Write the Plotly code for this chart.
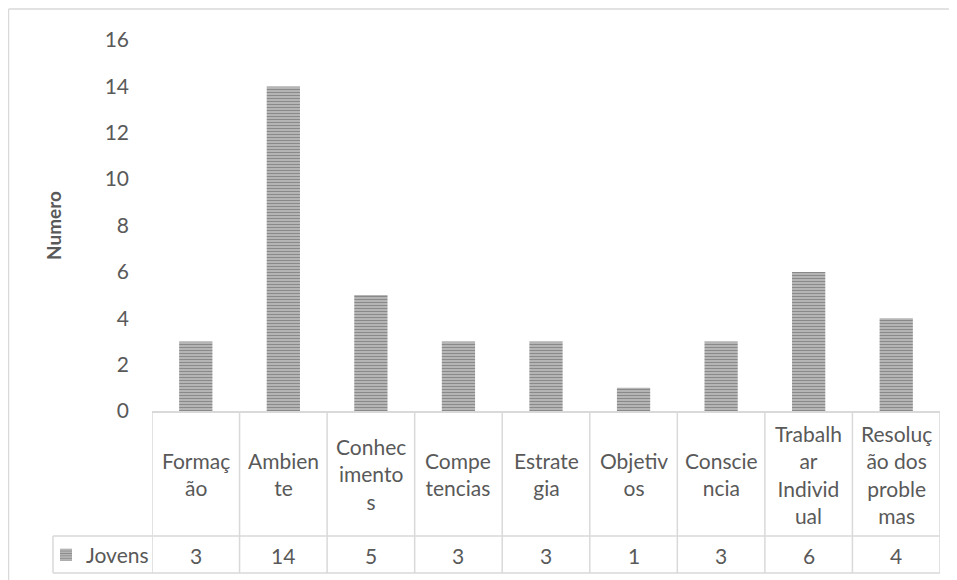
import plotly.graph_objects as go

categories = ["Formação", "Ambiente", "Conhecimentos", "Competencias", "Estrategia",
              "Objetivos", "Conscie ncia", "Trabalhar Individual", "Resolução dos problemas"]
tick_labels = ["Formaç<br>ão", "Ambien<br>te", "Conhec<br>imento<br>s", "Compe<br>tencias",
               "Estrate<br>gia", "Objetiv<br>os", "Conscie<br>ncia", "Trabalh<br>ar<br>Individ<br>ual",
               "Resoluç<br>ão dos<br>proble<br>mas"]
series_name = "Jovens"
values = [3, 14, 5, 3, 3, 1, 3, 6, 4]
y_ticks = [0, 2, 4, 6, 8, 10, 12, 14, 16]

OFF = 8  # page body margin
W, H = 957 - OFF, 580 - OFF
L, R, T, B = 152 - OFF, 17, 40 - OFF, 169
pw, ph = W - L - R, H - T - B

def px_x(p):
    return (p - OFF - L) / pw

def px_y(p):
    return (H - B - (p - OFF)) / ph

FONT = "Lato"
TXT = "#595959"
GRID = "#d9d9d9"
FS = 21

fig = go.Figure()
fig.add_trace(go.Bar(
    x=list(range(len(categories))), y=values, name=series_name, width=0.38,
    marker=dict(color="#a6a6a6", line=dict(width=0),
                pattern=dict(shape="-", fgcolor="#4f4f4f", bgcolor="#c4c4c4", size=3, solidity=0.5)),
    showlegend=True,
))

shapes = []
n = len(categories)
y_top = px_y(411)
y_mid = px_y(536)
y_bot = px_y(573)
for i in range(n + 1):
    shapes.append(dict(type="line", xref="x", yref="paper", x0=i - 0.5, x1=i - 0.5,
                       y0=y_top, y1=y_bot, line=dict(color=GRID, width=1.5)))
for yy in (y_mid, y_bot):
    shapes.append(dict(type="line", xref="paper", yref="paper", x0=px_x(53), x1=px_x(940),
                       y0=yy, y1=yy, line=dict(color=GRID, width=1.5)))
shapes.append(dict(type="line", xref="paper", yref="paper", x0=px_x(53), x1=px_x(53),
                   y0=y_mid, y1=y_bot, line=dict(color=GRID, width=1.5)))
shapes.append(dict(type="line", xref="paper", yref="paper", x0=px_x(8.5), x1=px_x(960),
                   y0=px_y(9), y1=px_y(9), line=dict(color=GRID, width=1.5)))
shapes.append(dict(type="line", xref="paper", yref="paper", x0=px_x(8.5), x1=px_x(8.5),
                   y0=px_y(9), y1=px_y(585), line=dict(color=GRID, width=1.5)))

annotations = []
for i, (lab, v) in enumerate(zip(tick_labels, values)):
    annotations.append(dict(x=i, y=px_y(474), xref="x", yref="paper", text=lab, showarrow=False,
                            xanchor="center", yanchor="middle",
                            font=dict(family=FONT, size=FS, color=TXT), align="center"))
    annotations.append(dict(x=i, y=px_y(555), xref="x", yref="paper", text=str(v), showarrow=False,
                            xanchor="center", yanchor="middle",
                            font=dict(family=FONT, size=FS, color=TXT)))

fig.update_layout(
    width=W, height=H, margin=dict(l=L, r=R, t=T, b=B, autoexpand=False),
    paper_bgcolor="white", plot_bgcolor="white",
    font=dict(family=FONT, size=FS, color=TXT),
    shapes=shapes, annotations=annotations,
    legend=dict(x=px_x(46), y=px_y(555), xanchor="left", yanchor="middle",
                font=dict(family=FONT, size=FS, color=TXT), bgcolor="rgba(0,0,0,0)",
                itemwidth=30, tracegroupgap=0),
    bargap=0.62,
)
fig.update_xaxes(range=[-0.5, n - 0.5], showticklabels=False, showgrid=False, zeroline=False,
                 showline=True, linecolor=GRID, linewidth=2, ticks="")
fig.update_yaxes(range=[0, 16], tickvals=y_ticks, showgrid=False, zeroline=False, showline=False,
                 ticks="", ticklabelstandoff=22,
                 tickfont=dict(family=FONT, size=FS, color=TXT),
                 title=dict(text="<b>Numero</b>", font=dict(family=FONT, size=19, color=TXT), standoff=37))

fig.write_html("out.html")
